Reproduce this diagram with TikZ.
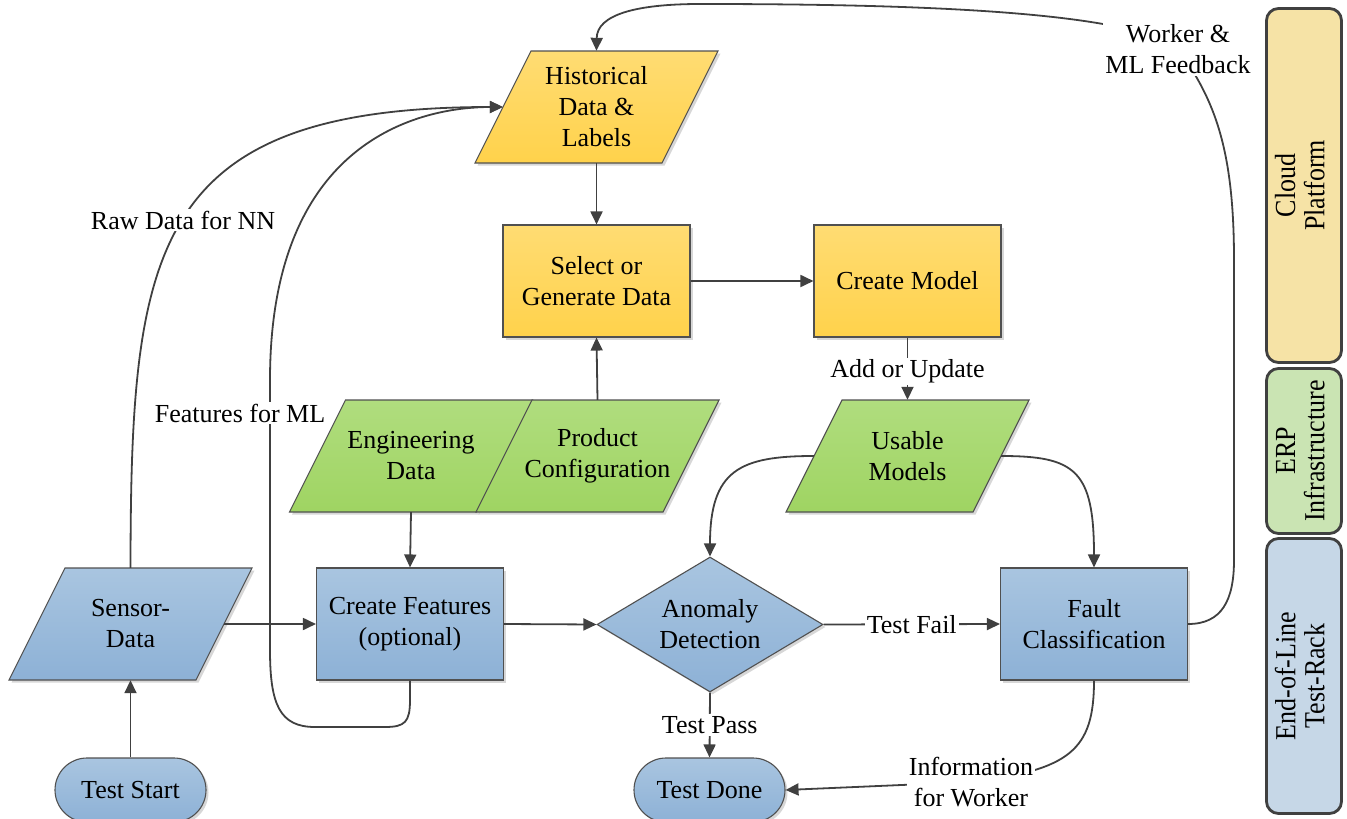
\documentclass[tikz,border=0pt]{standalone}
\usepackage{fontspec}
\setmainfont{Liberation Serif}
\usetikzlibrary{shapes.geometric,shapes.misc,arrows.meta,shadows}
\definecolor{ytop}{HTML}{FFDC73}
\definecolor{ybot}{HTML}{FFD24B}
\definecolor{btop}{HTML}{A9C5E0}
\definecolor{bbot}{HTML}{8DB1D6}
\definecolor{gtop}{HTML}{B0DD7E}
\definecolor{gbot}{HTML}{9FD462}
\definecolor{edgeclr}{HTML}{505050}
\definecolor{lineclr}{HTML}{404040}
\definecolor{cloudc}{HTML}{F6E3A6}
\definecolor{erpc}{HTML}{CAE4B3}
\definecolor{eolc}{HTML}{C6D7E7}
% parallelogram (data) shape centred at (#1,#2), 187 x 112, slant 56
\newcommand{\paral}[3]{\path[parashape,#3] ([xshift=-121.5pt,yshift=-56pt]#1,#2)
  -- ++(187,0) -- ++(56,-112) -- ++(-187,0) -- cycle;}
\newcommand{\bandtext}[2]{\scalebox{1}[1.12]{\fontsize{26}{26}\selectfont
  \begin{tabular}{@{}c@{}}#1\\#2\end{tabular}}}
\begin{document}
\begin{tikzpicture}[x=1pt,y=-1pt,
  font=\fontsize{26}{31}\selectfont,
  shadowed/.style={drop shadow={shadow xshift=2.5pt,shadow yshift=-2.5pt,fill=black!35,opacity=0.45}},
  base/.style={draw=edgeclr, line width=1.1pt, align=center, inner sep=2pt, shadowed},
  parashape/.style={draw=edgeclr, line width=1.1pt, shadowed},
  yel/.style={top color=ytop,bottom color=ybot},
  blu/.style={top color=btop,bottom color=bbot},
  grn/.style={top color=gtop,bottom color=gbot},
  procbox/.style={base, rectangle, minimum width=187pt, minimum height=112pt},
  datatext/.style={rectangle, align=center, inner sep=0pt, minimum width=187pt, minimum height=112pt},
  decbox/.style={base, diamond, aspect=1.67, minimum width=226pt, minimum height=135pt, inner sep=0pt},
  termbox/.style={base, rounded rectangle, minimum width=155pt, minimum height=64pt},
  link/.style={draw=lineclr, line width=1.8pt},
  arr/.style={link, -{Triangle[length=13pt,width=12pt]}},
  lbl/.style={fill=white, inner sep=2pt, align=center},
  band/.style={draw=lineclr, line width=2.8pt, rounded corners=12pt, rotate=90, align=center, inner sep=0pt,
    minimum height=75pt}
]
\useasboundingbox (0,0) rectangle (1347,819);

% side bands
\node[band, fill=cloudc, minimum width=354pt] (cloud) at (1304,185.5) {\bandtext{Cloud}{Platform}};
\node[band, fill=erpc, minimum width=165pt] (erp) at (1304,451) {\bandtext{ERP}{Infrastructure}};
\node[band, fill=eolc, minimum width=275pt] (eol) at (1304,676) {\bandtext{End-of-Line}{Test-Rack}};

% parallelogram outlines
\paral{596.5}{107}{yel}
\paral{411}{456}{grn}
\paral{597.5}{456}{grn}
\paral{907.5}{456}{grn}
\paral{130.5}{624}{blu}

% nodes
\node[datatext] (hist) at (596.5,107) {Historical\\Data \&\\Labels};
\node[procbox, yel] (sel) at (596.5,281) {Select or\\Generate Data};
\node[procbox, yel] (cm) at (907.5,281) {Create Model};
\node[datatext] (eng) at (411,456) {Engineering\\Data};
\node[datatext] (prod) at (597.5,456) {Product\\Configuration};
\node[datatext] (usable) at (907.5,456) {Usable\\Models};
\node[datatext] (sensor) at (130.5,624) {Sensor-\\Data};
\node[procbox, blu] (cf) at (410,624) {Create Features\\(optional)};
\node[decbox, blu] (anom) at (710,624.5) {Anomaly\\Detection};
\node[procbox, blu] (fault) at (1094,624) {Fault\\Classification};
\node[termbox, blu] (start) at (130.5,790) {Test Start};
\node[termbox, blu] (done) at (709.5,790) {Test Done};

% connectors
\draw[arr] (hist.south) -- (sel.north);
\draw[arr] (sel.east) -- (cm.west);
\draw[arr] (prod.north) -- (sel.south);
\draw[arr] (eng.south) -- (cf.north);
\draw[arr] (start.north) -- (sensor.south);
\draw[arr] (sensor.east) -- (cf.west);
\draw[arr] (cf.east) -- (anom.west);
\draw[arr] (cm.south) -- node[lbl, yshift=-3pt] (addlbl) {Add or Update} (usable.north);
\draw[arr] (anom.east) -- node[lbl] (faillbl) {Test Fail} (fault.west);
\draw[arr] (anom.south) -- node[lbl] (passlbl) {Test Pass} (done.north);
\draw[arr] (usable.west) .. controls (740,456) and (710,470) .. (anom.north);
\draw[arr] (usable.east) .. controls (1075,456) and (1094,470) .. (fault.north);

% raw data for NN
\draw[arr] (sensor.north) .. controls (131,250) and (150,107) .. (hist.west);
\node[lbl] (rawlbl) at (183,220) {Raw Data for NN};

% features for ML
\draw[arr] (cf.south) -- (410,700) .. controls (410,722) and (405,727) .. (385,727)
  -- (315,727) .. controls (280,727) and (270,705) .. (270,650)
  -- (270,380) .. controls (270,140) and (420,107) .. (hist.west);
\node[lbl] (featlbl) at (240,413) {Features for ML};

% feedback
\coordinate (fbtop) at (700,4);
\draw[arr] (fault.east) .. controls (1222,624) and (1234,600) .. (1234,560)
  -- (1234,260) .. controls (1234,150) and (1215,100) .. (1178,49)
  .. controls (1130,10) and (900,4) .. (fbtop)
  .. controls (635,4) and (597,15) .. (hist.north);
\node[lbl] (fblbl) at (1178,49) {Worker \&\\ML Feedback};

% information for worker
\draw[arr] (fault.south) .. controls (1094,750) and (1070,770) .. (971,782) -- (done.east);
\node[lbl] (infolbl) at (971,782) {Information\\for Worker};
\end{tikzpicture}
\end{document}
